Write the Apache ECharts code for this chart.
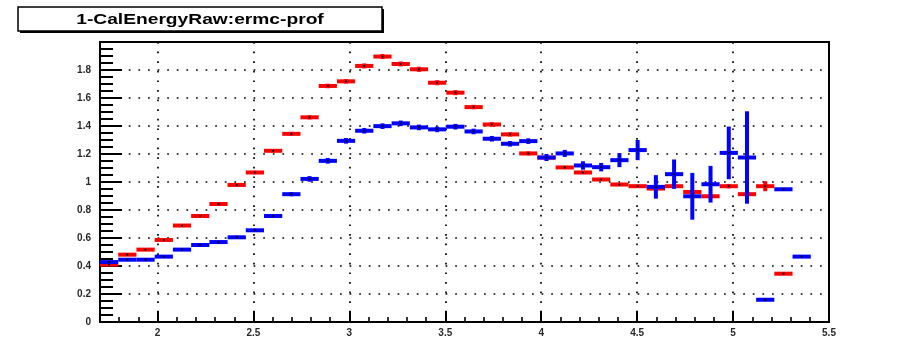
<!DOCTYPE html>
<html>
<head>
<meta charset="utf-8">
<script src="https://cdn.jsdelivr.net/npm/echarts@6/dist/echarts.min.js"></script>
<style>
  html, body { margin: 0; padding: 0; background: #fff; }
  #chart { width: 924px; height: 338px; }
</style>
</head>
<body>
<div id="chart"></div>
<script>
// Profile histogram binning
const nBins = 40;
const xLow = 1.7;
const xHigh = 5.5;

const titleText = '1-CalEnergyRaw:ermc-prof';

// Major x tick labels
const xMajorTicks = [2, 2.5, 3, 3.5, 4, 4.5, 5, 5.5];

// Red profile: bin means and errors
const redValues = [0.41, 0.481, 0.517, 0.586, 0.689, 0.757, 0.843, 0.979, 1.068, 1.223,
  1.344, 1.462, 1.686, 1.719, 1.829, 1.896, 1.843, 1.805, 1.709, 1.638,
  1.535, 1.411, 1.34, 1.204, 1.174, 1.104, 1.068, 1.018, 0.982, 0.97,
  0.953, 0.97, 0.929, 0.898, 0.97, 0.913, 0.97, 0.345, null, null];
const redErrors = [0.005, 0.006, 0.006, 0.007, 0.008, 0.008, 0.01, 0.01, 0.012, 0.012,
  0.014, 0.015, 0.016, 0.016, 0.018, 0.018, 0.018, 0.018, 0.018, 0.018,
  0.016, 0.016, 0.015, 0.014, 0.01, 0.012, 0.012, 0.012, 0.012, 0.012,
  0.012, 0.012, 0.014, 0.014, 0.016, 0.018, 0.036, 0.01, null, null];

// Blue profile: bin means and errors
const blueValues = [0.428, 0.445, 0.445, 0.467, 0.517, 0.55, 0.571, 0.605, 0.655, 0.757,
  0.913, 1.022, 1.151, 1.294, 1.366, 1.399, 1.419, 1.39, 1.376, 1.395,
  1.361, 1.309, 1.273, 1.292, 1.175, 1.204, 1.118, 1.106, 1.156, 1.228,
  0.965, 1.056, 0.898, 0.984, 1.208, 1.175, 0.159, 0.948, 0.467, null];
const blueErrors = [0.008, 0.008, 0.008, 0.008, 0.008, 0.01, 0.01, 0.012, 0.012, 0.012,
  0.015, 0.02, 0.02, 0.02, 0.02, 0.02, 0.02, 0.02, 0.02, 0.02,
  0.02, 0.02, 0.02, 0.02, 0.025, 0.025, 0.03, 0.03, 0.05, 0.072,
  0.084, 0.105, 0.167, 0.131, 0.188, 0.33, 0, 0.01, 0.01, null];

const binWidth = (xHigh - xLow) / nBins;

function profileData(values, errors) {
  const out = [];
  for (let i = 0; i < nBins; i++) {
    if (values[i] == null) continue;
    out.push([xLow + binWidth * (i + 0.5), values[i], errors[i] || 0]);
  }
  return out;
}

// Draws each bin as a thick horizontal bar with a vertical error bar and a dot marker
function makeRender(color) {
  return function (params, api) {
    const xc = api.value(0), v = api.value(1), e = api.value(2);
    const left = api.coord([xc - binWidth / 2, v]);
    const right = api.coord([xc + binWidth / 2, v]);
    const top = api.coord([xc, v + e]);
    const bot = api.coord([xc, v - e]);
    const t = 4;
    const children = [
      { type: 'rect', shape: { x: left[0], y: left[1] - t / 2, width: right[0] - left[0], height: t },
        style: { fill: color } },
      { type: 'rect', shape: { x: top[0] - t / 2, y: top[1], width: t, height: Math.max(bot[1] - top[1], 0) },
        style: { fill: color } },
      { type: 'circle', shape: { cx: left[0] + (right[0] - left[0]) / 2, cy: left[1], r: 1.1 },
        style: { fill: '#000' } }
    ];
    return { type: 'group', children: children };
  };
}

const chart = echarts.init(document.getElementById('chart'), null, { renderer: 'canvas' });

const dotted = { color: '#000', width: 1.7, type: [1.7, 7.9] };
const labelFont = { fontFamily: 'Liberation Sans', fontWeight: 'bold', fontSize: 10, color: '#2a2a2a' };

const gridRect = { left: 100, top: 42, width: 729, height: 280 };

chart.setOption({
  animation: false,
  backgroundColor: '#fff',
  grid: [
    Object.assign({ show: true, borderColor: '#000', borderWidth: 2, backgroundColor: 'transparent' }, gridRect),
    Object.assign({ show: false }, gridRect)
  ],
  xAxis: [
    {
      type: 'value', gridIndex: 0, min: xLow, max: xHigh, position: 'bottom',
      axisLine: { show: true, onZero: false, lineStyle: { color: '#000', width: 2 } },
      axisTick: { show: true, inside: true, length: 11, customValues: xMajorTicks, lineStyle: { color: '#000', width: 2 } },
      axisLabel: Object.assign({ show: true, margin: 6, customValues: xMajorTicks, showMaxLabel: true,
        formatter: function (v) { return String(Math.round(v * 10) / 10); } }, labelFont),
      splitLine: { show: true, lineStyle: dotted }
    },
    {
      type: 'value', gridIndex: 1, min: xLow, max: xHigh, interval: 0.1, position: 'bottom',
      axisLine: { show: false },
      axisTick: { show: true, inside: true, length: 5, lineStyle: { color: '#000', width: 1.6 } },
      axisLabel: { show: false },
      splitLine: { show: false }
    }
  ],
  yAxis: [
    {
      type: 'value', gridIndex: 0, min: 0, max: 2.0, interval: 0.2,
      axisLine: { show: true, onZero: false, lineStyle: { color: '#000', width: 2 } },
      axisTick: { show: true, inside: true, length: 22, lineStyle: { color: '#000', width: 2 } },
      minorTick: { show: true, splitNumber: 4, length: 13, lineStyle: { color: '#000', width: 2 } },
      axisLabel: Object.assign({ show: true, margin: 9, showMaxLabel: false,
        formatter: function (v) { return String(Math.round(v * 10) / 10); } }, labelFont),
      splitLine: { show: true, lineStyle: dotted }
    },
    {
      type: 'value', gridIndex: 1, min: 0, max: 2.0, show: false
    }
  ],
  graphic: [
    { type: 'rect', shape: { x: 20, y: 9, width: 364, height: 24 }, style: { fill: '#000' }, z: 10 },
    { type: 'rect', shape: { x: 18, y: 7, width: 364, height: 24 },
      style: { fill: '#fff', stroke: '#000', lineWidth: 1.5 }, z: 11 },
    { type: 'text', x: 200, y: 19.5, scaleX: 1.28, z: 12,
      style: { text: titleText, x: 0, y: 0, align: 'center', verticalAlign: 'middle',
        fontFamily: 'Liberation Sans', fontWeight: 'bold', fontSize: 15, fill: '#000' } }
  ],
  series: [
    {
      name: 'red', type: 'custom', xAxisIndex: 0, yAxisIndex: 0, z: 3,
      renderItem: makeRender('#ff0000'),
      data: profileData(redValues, redErrors),
      clip: true
    },
    {
      name: 'blue', type: 'custom', xAxisIndex: 0, yAxisIndex: 0, z: 4,
      renderItem: makeRender('#0000ff'),
      data: profileData(blueValues, blueErrors),
      clip: true
    }
  ]
});
</script>
</body>
</html>
